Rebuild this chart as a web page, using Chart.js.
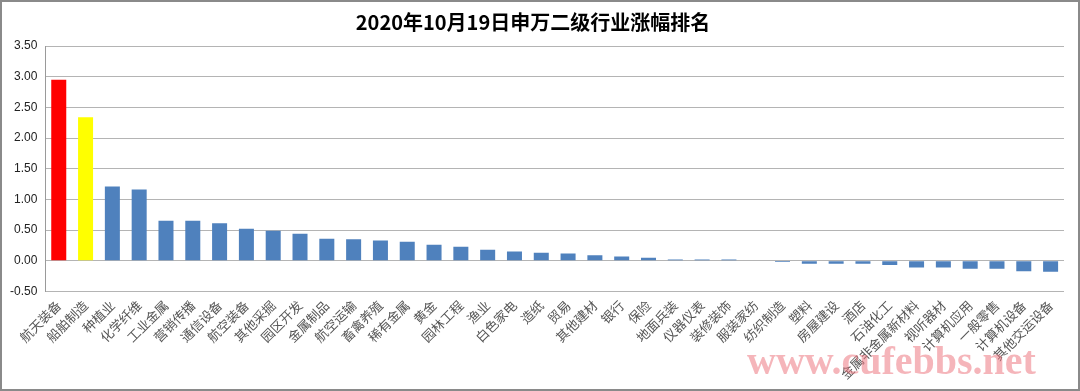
<!DOCTYPE html>
<html>
<head>
<meta charset="utf-8">
<script src="https://cdn.jsdelivr.net/npm/chart.js@4"></script>
<style>
  html, body { margin: 0; padding: 0; background: #fff; }
  .wrap { width: 1080px; height: 391px; box-sizing: border-box; border: 2px solid #8a8a8a; position: relative; }
  canvas { display: block; }
</style>
</head>
<body>
<div class="wrap"><canvas id="rankChart" width="1076" height="387"></canvas></div>
<script>
const industries = [
  "航天装备", "船舶制造", "种植业", "化学纤维", "工业金属", "营销传播", "通信设备", "航空装备",
  "其他采掘", "园区开发", "金属制品", "航空运输", "畜禽养殖", "稀有金属", "黄金", "园林工程",
  "渔业", "白色家电", "造纸", "贸易", "其他建材", "银行", "保险", "地面兵装",
  "仪器仪表", "装修装饰", "服装家纺", "纺织制造", "塑料", "房屋建设", "酒店", "石油化工",
  "金属非金属新材料", "视听器材", "计算机应用", "一般零售", "计算机设备", "其他交运设备"
];

const changePct = [
  2.95, 2.34, 1.21, 1.16, 0.65, 0.65, 0.61, 0.52,
  0.49, 0.44, 0.36, 0.35, 0.33, 0.31, 0.26, 0.23,
  0.18, 0.15, 0.13, 0.12, 0.09, 0.07, 0.05, 0.02,
  0.02, 0.02, 0.01, -0.02, -0.05, -0.05, -0.05, -0.07,
  -0.11, -0.11, -0.13, -0.13, -0.17, -0.18
];

const yTicks = { min: -0.5, max: 3.5, step: 0.5 };

// top two get highlighted
const barColors = changePct.map((v, i) => {
  if (i === 0) return "#FF0000";
  if (i === 1) return "#FFFF00";
  return "#4F81BD";
});

const watermark = {
  id: "watermark",
  afterDraw(chart) {
    const c = chart.ctx;
    c.save();
    c.font = "bold 40px 'Liberation Serif', 'DejaVu Serif', serif";
    c.fillStyle = "rgba(236, 120, 130, 0.55)";
    c.textBaseline = "alphabetic";
    c.fillText("www.cufebbs.net", 745, 372);
    c.restore();
  }
};

const ctx = document.getElementById("rankChart");

const rankChart = new Chart(ctx, {
  type: "bar",
  data: {
    labels: industries,
    datasets: [
      {
        label: "涨幅",
        data: changePct,
        backgroundColor: barColors,
        borderWidth: 0,
        categoryPercentage: 1,
        barPercentage: 0.56
      }
    ]
  },
  options: {
    responsive: false,
    animation: false,
    layout: {
      padding: { left: 0, right: 14, top: 0, bottom: 1 }
    },
    plugins: {
      legend: { display: false },
      tooltip: { enabled: false },
      title: {
        display: true,
        text: "2020年10月19日申万二级行业涨幅排名",
        color: "#000",
        font: { size: 20, weight: "bold", family: "'Noto Sans CJK SC', 'Open Sans', sans-serif" },
        padding: { top: 8, bottom: 12 }
      }
    },
    scales: {
      x: {
        grid: { display: false, drawTicks: false },
        border: { display: false },
        ticks: {
          autoSkip: false,
          maxRotation: 45,
          minRotation: 45,
          padding: 6,
          color: "#555",
          font: { size: 13, family: "'Noto Sans CJK SC', sans-serif" }
        }
      },
      y: {
        min: yTicks.min,
        max: yTicks.max,
        ticks: {
          stepSize: yTicks.step,
          padding: 8,
          color: "#222",
          font: { size: 12, family: "'Liberation Sans', 'Open Sans', sans-serif" },
          callback: v => v.toFixed(2)
        },
        grid: {
          color: "#b4b4b4",
          lineWidth: 1,
          drawTicks: false
        },
        border: { display: true, color: "#9a9a9a", width: 1 }
      }
    }
  },
  plugins: [watermark]
});
</script>
</body>
</html>
